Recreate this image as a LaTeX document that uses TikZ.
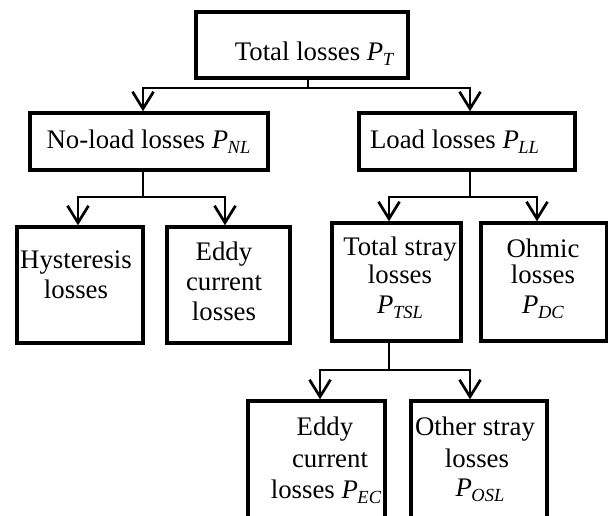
\documentclass[tikz,border=0pt]{standalone}
\usepackage{fontspec}
\setmainfont{Liberation Serif}
\usetikzlibrary{arrows.meta}
\newcommand\Psb[1]{\textit{P}\kern-0.5pt\raisebox{-5pt}{\fontsize{18.5}{18.5}\selectfont\itshape #1}}
\begin{document}
\begin{tikzpicture}[x=1pt,y=-1pt,
  box/.style={draw, line width=3.4pt, rectangle, inner sep=0pt},
  lbl/.style={anchor=base, inner sep=0pt, font=\fontsize{26.8}{30}\selectfont},
  ln/.style={line width=2.7pt},
  arr2/.style={line width=2.7pt, {Straight Barb[length=17pt,width=21pt]}-{Straight Barb[length=17pt,width=21pt]}}]
\useasboundingbox (0,0) rectangle (608,515);
\clip (0,0) rectangle (608,515);
% boxes
\node[box, minimum width=212pt, minimum height=66pt] (top) at (302,45) {};
\node[box, minimum width=238pt, minimum height=57pt] (noload) at (149,141.5) {};
\node[box, minimum width=216pt, minimum height=57pt] (load) at (467,141.5) {};
\node[box, minimum width=126pt, minimum height=116pt] (hyst) at (80,285) {};
\node[box, minimum width=123pt, minimum height=116pt] (eddyL) at (228.5,285) {};
\node[box, minimum width=129pt, minimum height=118pt] (tsl) at (396.5,282) {};
\node[box, minimum width=126pt, minimum height=118pt] (ohm) at (544,282) {};
\node[box, minimum width=137pt, minimum height=138pt] (ec) at (316.5,470) {};
\node[box, minimum width=136pt, minimum height=138pt] (osl) at (479,470) {};
% texts
\node[lbl] (tTop) at (314,60) {Total losses \Psb{T}};
\node[lbl] (tNL) at (148.5,148) {No-load losses \Psb{NL}};
\node[lbl] (tLL) at (454.5,148) {Load losses \Psb{LL}};
\node[lbl] (tH1) at (76,268) {Hysteresis};
\node[lbl] (tH2) at (76,298) {losses};
\node[lbl] (tE1) at (224,260) {Eddy};
\node[lbl] (tE2) at (224,290) {current};
\node[lbl] (tE3) at (224,320) {losses};
\node[lbl] (tS1) at (400,255) {Total stray};
\node[lbl] (tS2) at (400,283) {losses};
\node[lbl] (tS3) at (400,313) {\Psb{TSL}};
\node[lbl] (tO1) at (543,257) {Ohmic};
\node[lbl] (tO2) at (543,283) {losses};
\node[lbl] (tO3) at (543,313) {\Psb{DC}};
\node[lbl] (tC1) at (325,435) {Eddy};
\node[lbl] (tC2) at (330,467) {current};
\node[lbl] (tC3) at (326,498) {losses \Psb{EC}};
\node[lbl] (tX1) at (475,435) {Other stray};
\node[lbl] (tX2) at (477,467) {losses};
\node[lbl] (tX3) at (480,496) {\Psb{OSL}};
% junction coordinates
\coordinate (j0) at (308,88);
\coordinate (j0L) at (143,88);
\coordinate (j0R) at (470,88);
\coordinate (j1) at (143,197);
\coordinate (j1L) at (78,197);
\coordinate (j1R) at (225,197);
\coordinate (j2) at (470,197);
\coordinate (j2L) at (389,197);
\coordinate (j2R) at (537,197);
\coordinate (j3) at (389,370);
\coordinate (j3L) at (320,370);
\coordinate (j3R) at (470,370);
% connectors
\draw[ln] (top.south -| j0) -- (j0);
\draw[arr2] (noload.north -| j0L) -- (j0L) -- (j0R) -- (j0R |- load.north);
\draw[ln] (noload.south -| j1) -- (j1);
\draw[arr2] (hyst.north -| j1L) -- (j1L) -- (j1R) -- (j1R |- eddyL.north);
\draw[ln] (load.south -| j2) -- (j2);
\draw[arr2] (tsl.north -| j2L) -- (j2L) -- (j2R) -- (j2R |- ohm.north);
\draw[ln] (tsl.south -| j3) -- (j3);
\draw[arr2] (ec.north -| j3L) -- (j3L) -- (j3R) -- (j3R |- osl.north);
\end{tikzpicture}
\end{document}
